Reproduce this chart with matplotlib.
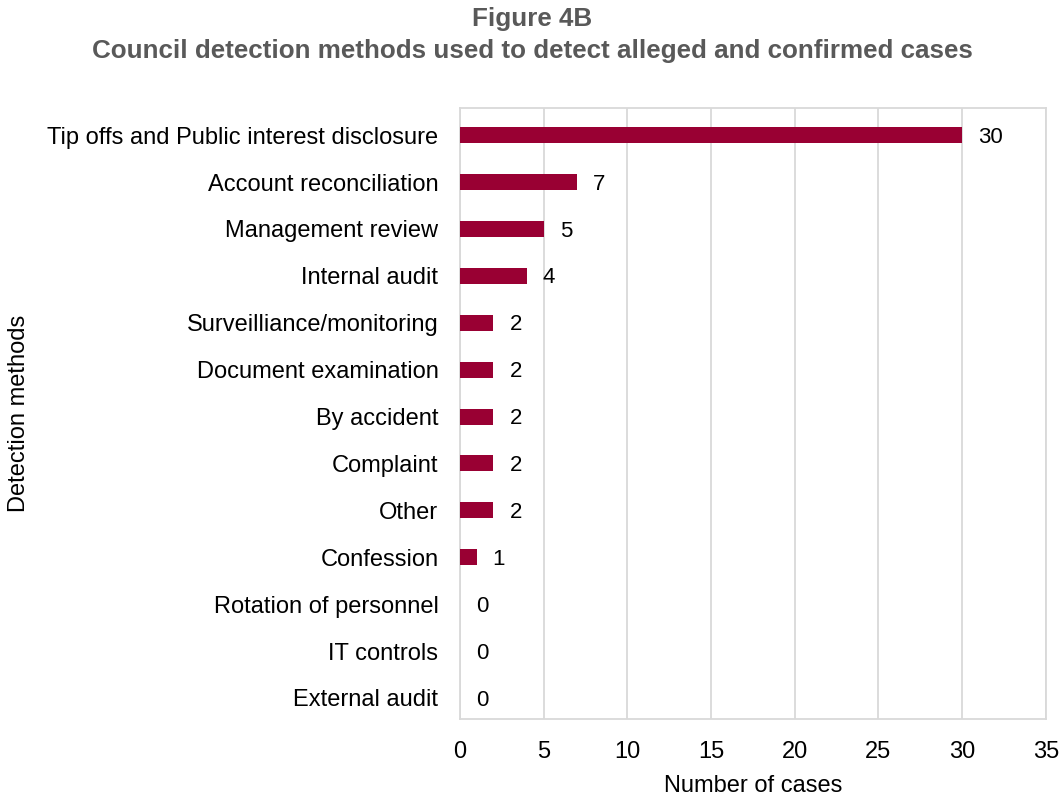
import numpy as np
import matplotlib.pyplot as plt
from matplotlib import rcParams

rcParams['font.family'] = ['Liberation Sans', 'DejaVu Sans']
rcParams['font.size'] = 17

# Detection methods and number of cases
methods = ['Tip offs and Public interest disclosure', 'Account reconciliation',
           'Management review', 'Internal audit', 'Surveilliance/monitoring',
           'Document examination', 'By accident', 'Complaint', 'Other',
           'Confession', 'Rotation of personnel', 'IT controls', 'External audit']
cases = [30, 7, 5, 4, 2, 2, 2, 2, 2, 1, 0, 0, 0]

bar_color = '#990033'
grid_color = '#d9d9d9'

fig = plt.figure(figsize=(10.64, 7.96), dpi=100)
ax = fig.add_axes([0.4323, 0.0967, 0.5507, 0.7676])

y = np.arange(len(methods))
ax.barh(y, cases, height=0.34, color=bar_color, zorder=3)

# value labels to the right of each bar
for yi, v in zip(y, cases):
    ax.annotate(str(v), xy=(v, yi), xytext=(11.5, -1.5), textcoords='offset points',
                va='center', ha='left', fontsize=16, color='black')

ax.set_yticks(y)
ax.set_yticklabels(methods)
ax.set_ylim(len(methods) - 1 + 0.45, -0.58)

ax.set_xlim(0, 35)
ax.set_xticks(np.arange(0, 36, 5))
ax.grid(axis='x', color=grid_color, linewidth=1.3, zorder=0)
ax.tick_params(length=0)
ax.tick_params(axis='x', pad=15.5)
ax.tick_params(axis='y', pad=15.5)

for s in ax.spines.values():
    s.set_color(grid_color)
    s.set_linewidth(1.3)

ax.set_xlabel('Number of cases', labelpad=9)
ax.set_ylabel('Detection methods')
ax.yaxis.set_label_coords(-0.734, 0.5)

fig.text(0.5, 1 - 7 / 796, 'Figure 4B\nCouncil detection methods used to detect alleged and confirmed cases',
         ha='center', va='top', fontsize=18.7, fontweight='bold', color='#595959',
         linespacing=1.4)

fig.savefig('out.png', dpi=100)
